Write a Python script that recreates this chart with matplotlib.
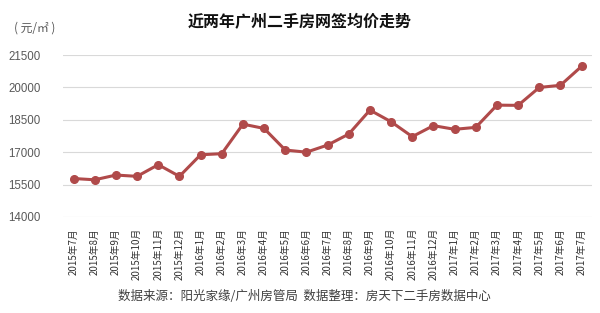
import matplotlib.pyplot as plt
from matplotlib.ticker import FixedLocator

plt.rcParams['font.family'] = ['Noto Sans CJK SC', 'DejaVu Sans']

months = ['2015年7月', '2015年8月', '2015年9月', '2015年10月', '2015年11月', '2015年12月',
          '2016年1月', '2016年2月', '2016年3月', '2016年4月', '2016年5月', '2016年6月',
          '2016年7月', '2016年8月', '2016年9月', '2016年10月', '2016年11月', '2016年12月',
          '2017年1月', '2017年2月', '2017年3月', '2017年4月', '2017年5月', '2017年6月',
          '2017年7月']
prices = [15780, 15720, 15940, 15880, 16420, 15880,
          16880, 16930, 18300, 18100, 17100, 17000,
          17330, 17840, 18950, 18410, 17720, 18230,
          18060, 18150, 19180, 19170, 20000, 20100,
          20980]
yticks = [14000, 15500, 17000, 18500, 20000, 21500]

fig = plt.figure(figsize=(6, 3.13), dpi=100)
ax = fig.add_axes([0.105, 0.307, 0.882, 0.517])

x = list(range(len(prices)))
ax.plot(x, prices, color='#B04A4A', lw=2.2, marker='o', ms=5.5, zorder=3)

ax.set_xlim(-0.5, len(prices) - 0.5)
ax.set_ylim(14000, 21500)
ax.yaxis.set_major_locator(FixedLocator(yticks))
ax.set_xticks(x)
ax.set_xticklabels(months, rotation=90, fontsize=7, color='#333333')
ax.tick_params(axis='y', length=0, pad=16)
for lbl in ax.get_yticklabels():
    lbl.set_fontfamily('Liberation Sans')
    lbl.set_fontsize(8.3)
    lbl.set_color('#595959')
ax.tick_params(axis='x', length=0, pad=8)
ax.grid(axis='y', color='#D9D9D9', lw=0.8)
ax.set_axisbelow(True)
for s in ax.spines.values():
    s.set_visible(False)

fig.text(0.5, 0.93, '近两年广州二手房网签均价走势', ha='center', va='center',
         fontsize=11.5, fontweight='bold', color='#111111')
fig.text(0.058, 0.91, '( 元/㎡ )', ha='center', va='center', fontsize=8.5, color='#595959')
fig.text(0.508, 0.054, '数据来源：阳光家缘/广州房管局  数据整理：房天下二手房数据中心',
         ha='center', va='center', fontsize=9, color='#404040')

fig.savefig('out.png', dpi=100)
